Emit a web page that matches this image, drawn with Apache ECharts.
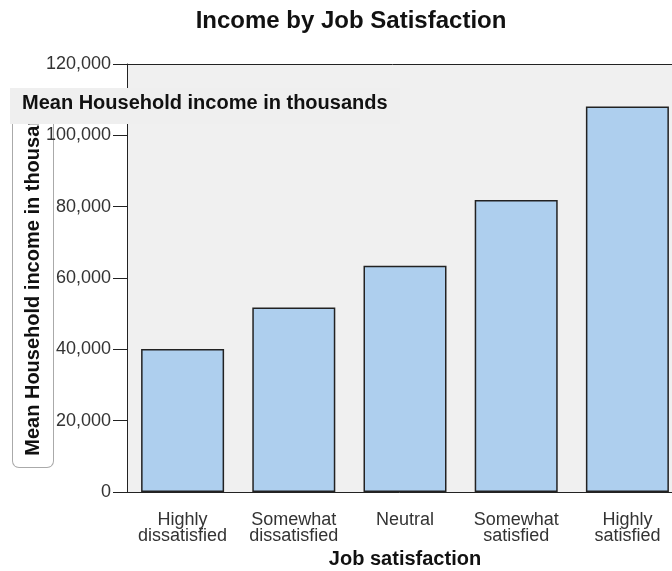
<!DOCTYPE html>
<html>
<head>
<meta charset="utf-8">
<script src="https://cdn.jsdelivr.net/npm/echarts@6/dist/echarts.min.js"></script>
<style>
	html, body { margin: 0; padding: 0; background: #fff; }
	#chart { width: 672px; height: 571px; }
</style>
</head>
<body>
<div id="chart"></div>
<script>
	// categories and mean income per category
	var categories = ["Highly\ndissatisfied", "Somewhat\ndissatisfied", "Neutral", "Somewhat\nsatisfied", "Highly\nsatisfied"];
	var incomes = [40100, 51700, 63400, 81900, 108100];
	var yTicks = [0, 20000, 40000, 60000, 80000, 100000, 120000];

	var titleText = "Income by Job Satisfaction";
	var yName = "Mean Household income in thousands";
	var xName = "Job satisfaction";

	var font = "Liberation Sans, Arial, sans-serif";

	var chart = echarts.init(document.getElementById("chart"));

	chart.setOption({
		animation: false,
		backgroundColor: "#fff",
		grid: {
			left: 127,
			right: -11,
			top: 64,
			bottom: 79,
			outerBoundsMode: "none",
			containLabel: false,
			show: true,
			backgroundColor: "#f0f0f0",
			borderWidth: 0
		},
		xAxis: {
			type: "category",
			data: categories,
			name: xName,
			nameLocation: "middle",
			nameGap: 56,
			nameTextStyle: {
				fontFamily: font,
				fontSize: 20,
				fontWeight: "bold",
				color: "#111"
			},
			axisLine: { lineStyle: { color: "#222", width: 1 } },
			axisTick: { alignWithLabel: true, length: 10, lineStyle: { color: "#222" } },
			axisLabel: {
				interval: 0,
				hideOverlap: false,
				fontFamily: font,
				fontSize: 18,
				color: "#333",
				lineHeight: 16,
				margin: 20
			}
		},
		yAxis: {
			type: "value",
			min: yTicks[0],
			max: yTicks[yTicks.length - 1],
			interval: yTicks[1] - yTicks[0],
			name: yName,
			nameLocation: "middle",
			nameRotate: 90,
			nameGap: 74,
			nameMoveOverlap: false,
			nameTruncate: { maxWidth: 359, ellipsis: "" },
			nameTextStyle: {
				fontFamily: font,
				fontSize: 20,
				fontWeight: "bold",
				color: "#111",
				lineHeight: 22,
				width: 359,
				overflow: "truncate",
				ellipsis: "",
				backgroundColor: "#fff",
				borderColor: "#aaa",
				borderWidth: 1,
				borderRadius: 6,
				padding: [9, 10, 9, 9]
			},
			axisLine: { show: true, onZero: false, lineStyle: { color: "#222", width: 1 } },
			axisTick: { show: true, length: 14, lineStyle: { color: "#222" } },
			splitLine: { show: false },
			axisLabel: {
				fontFamily: font,
				fontSize: 18,
				color: "#333",
				margin: 16,
				formatter: function(v) {
					return v.toLocaleString("en-US");
				}
			}
		},
		series: [{
			type: "bar",
			data: incomes,
			barWidth: 83,
			itemStyle: {
				color: "#aecfee",
				borderColor: "#222",
				borderWidth: 1.5
			}
		}],
		graphic: [{
			type: "text",
			x: 351,
			y: 21,
			style: {
				text: titleText,
				fontFamily: font,
				fontSize: 24,
				fontWeight: "bold",
				fill: "#111",
				align: "center",
				verticalAlign: "middle"
			}
		}, {
			type: "line",
			z: 50,
			shape: { x1: 113, y1: 64.5, x2: 672, y2: 64.5 },
			style: { stroke: "#222", lineWidth: 1 }
		}, {
			type: "rect",
			zlevel: 1,
			z: 100,
			shape: { x: 10, y: 88, width: 390, height: 36 },
			style: { fill: "#efefef" }
		}, {
			type: "text",
			zlevel: 1,
			z: 101,
			x: 22,
			y: 103,
			style: {
				text: yName,
				fontFamily: font,
				fontSize: 20,
				fontWeight: "bold",
				fill: "#111",
				verticalAlign: "middle"
			}
		}]
	});
</script>
</body>
</html>
